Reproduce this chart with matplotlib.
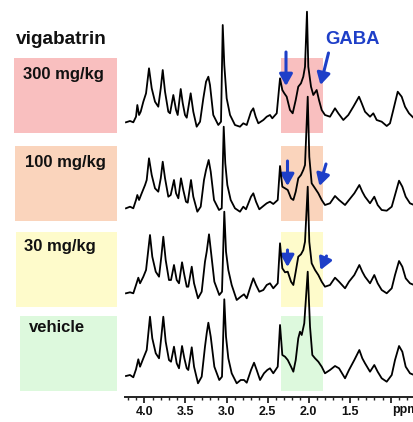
import matplotlib
matplotlib.use("Agg")
import matplotlib.pyplot as plt
from matplotlib.patches import Rectangle
from matplotlib.ticker import MultipleLocator

plt.rcParams['font.family'] = ['Liberation Sans', 'DejaVu Sans']

# ---------------- data (ppm, intensity above each trace's baseline) ----------------
groups = ["300 mg/kg", "100 mg/kg", "30 mg/kg", "vehicle"]

ppm_300 = [4.223, 4.174, 4.134, 4.101, 4.085, 4.064, 4.044, 4.012, 3.979, 3.943, 3.910, 3.870, 3.830,
           3.800, 3.776, 3.748, 3.708, 3.687, 3.647, 3.614, 3.594, 3.557, 3.533, 3.505, 3.484, 3.436,
           3.404, 3.363, 3.322, 3.282, 3.249, 3.221, 3.201, 3.161, 3.100, 3.067, 3.046, 3.027, 2.998,
           2.957, 2.897, 2.836, 2.796, 2.754, 2.702, 2.674, 2.645, 2.613, 2.552, 2.511, 2.471, 2.443,
           2.389, 2.349, 2.321, 2.297, 2.268, 2.228, 2.195, 2.158, 2.127, 2.094, 2.066, 2.045, 2.021,
           2.005, 1.972, 1.944, 1.903, 1.875, 1.842, 1.802, 1.741, 1.680, 1.640, 1.579, 1.518, 1.457,
           1.388, 1.355, 1.315, 1.254, 1.214, 1.173, 1.112, 1.051, 1.011, 0.971, 0.917, 0.869, 0.828,
           0.780, 0.719]
int_300 = [3.7, 5, 3.7, 9.3, 21, 11, 14.3, 24.3, 32.7, 57.7, 37.7, 24.3, 19.3,
           37.7, 56, 34.3, 14.3, 12.7, 31, 16, 11, 37, 23, 11, 8.3, 32.7,
           14.3, -0.7, 4.3, 27.7, 44.3, 49.3, 41, 11, 1, 4.3, 101, 61, 27.7,
           11, 1, -0.7, 2.7, 1, 14.3, 17.7, 9.3, 2.7, 6, 9.3, 11, 7.7,
           12.7, 47.7, 36, 32.7, 29.3, 16, 12.7, 26, 39.3, 42.7, 49.3, 59.3, 114.3,
           59.3, 39.3, 31, 36, 26, 16, 11, 9.3, 17.7, 12.7, 6, 11, 19.3,
           29.3, 22.7, 14.3, 9.3, 12.7, 6, 4.3, 0, 2.7, 16, 34.3, 29.3, 19.3,
           12.7, 7.7]

ppm_100 = [4.223, 4.174, 4.134, 4.101, 4.085, 4.064, 4.032, 3.991, 3.971, 3.943, 3.910, 3.870, 3.830,
           3.800, 3.776, 3.748, 3.708, 3.679, 3.639, 3.614, 3.586, 3.554, 3.526, 3.493, 3.472, 3.432,
           3.404, 3.355, 3.314, 3.274, 3.249, 3.217, 3.192, 3.152, 3.091, 3.058, 3.034, 3.015, 2.990,
           2.949, 2.897, 2.836, 2.796, 2.763, 2.702, 2.674, 2.641, 2.601, 2.552, 2.511, 2.471, 2.431,
           2.377, 2.349, 2.321, 2.288, 2.255, 2.215, 2.187, 2.158, 2.127, 2.094, 2.066, 2.045, 2.012,
           1.993, 1.964, 1.923, 1.883, 1.842, 1.802, 1.741, 1.680, 1.631, 1.558, 1.510, 1.445, 1.384,
           1.348, 1.315, 1.254, 1.202, 1.161, 1.112, 1.051, 0.990, 0.950, 0.901, 0.861, 0.820, 0.768,
           0.719]
int_100 = [2.7, 4.3, 2.7, 11, 16, 11, 17.7, 26, 31, 52.7, 36, 22.7, 19.3,
           32.7, 49.3, 32.7, 14.3, 16, 31, 17.7, 12.7, 32.7, 21, 9.3, 8.3, 31,
           14.3, -0.7, 4.3, 31, 41, 51, 39.3, 11, 1, 2.7, 84.3, 47.7, 26,
           11, 2.7, -0.7, 4.3, 1.7, 14.3, 17.7, 9.3, 1.7, 5, 7.7, 9.3, 7,
           11, 45, 24.3, 22.7, 21, 12.7, 11, 19.3, 32.7, 36, 41, 46, 114.3,
           54.3, 27.7, 22.7, 17.7, 11, 6, 7.7, 15, 11, 6, 11, 17.7, 26,
           19.3, 14.3, 7.7, 14.3, 6, 1, 0.3, 4.3, 16, 30.3, 24.3, 14.3, 7.7,
           6]

ppm_30 = [4.223, 4.174, 4.134, 4.101, 4.073, 4.052, 4.012, 3.979, 3.931, 3.903, 3.861, 3.821, 3.793,
          3.769, 3.740, 3.700, 3.675, 3.639, 3.606, 3.578, 3.541, 3.513, 3.484, 3.465, 3.423, 3.395,
          3.347, 3.302, 3.262, 3.241, 3.213, 3.189, 3.148, 3.088, 3.055, 3.027, 3.006, 2.978, 2.937,
          2.876, 2.827, 2.787, 2.754, 2.702, 2.674, 2.641, 2.601, 2.552, 2.511, 2.471, 2.431, 2.377,
          2.349, 2.321, 2.288, 2.255, 2.215, 2.187, 2.158, 2.127, 2.094, 2.066, 2.045, 2.012, 1.993,
          1.964, 1.923, 1.883, 1.842, 1.802, 1.741, 1.680, 1.631, 1.558, 1.510, 1.445, 1.384, 1.348,
          1.315, 1.254, 1.202, 1.161, 1.112, 1.051, 0.990, 0.950, 0.901, 0.861, 0.820, 0.768, 0.719]
int_30 = [2.7, 3.7, 2.7, 11, 18.3, 12.7, 19.3, 26, 61, 39.3, 24.3, 19.3, 39.3,
          59.3, 36, 16, 16, 31, 16, 12.7, 33.7, 21, 9.3, 9.3, 29.3, 12.7,
          -2.3, 4.3, 34.3, 44.3, 61.7, 44.3, 14.3, 1, 4.3, 84.3, 44.3, 26, 11,
          -4, -0.7, 1.7, -2.3, 11, 17.7, 11, 4.3, 6, 11, 12.7, 7.7, 12.7,
          52.7, 27.7, 23.7, 24.3, 14.3, 11, 24.3, 39.3, 41.7, 46, 54.3, 109.3, 54.3,
          32.7, 26, 21, 14.3, 9.3, 11, 18.3, 14.3, 7.7, 14.3, 21, 31, 24.3,
          19.3, 12.7, 21, 12.7, 6, 2.7, 7.7, 21, 35, 29.3, 17.7, 12.7, 11]

ppm_veh = [4.223, 4.174, 4.134, 4.101, 4.073, 4.052, 4.012, 3.971, 3.931, 3.903, 3.861, 3.821, 3.793,
           3.769, 3.740, 3.700, 3.675, 3.639, 3.606, 3.578, 3.541, 3.513, 3.484, 3.465, 3.423, 3.395,
           3.347, 3.302, 3.262, 3.241, 3.221, 3.192, 3.148, 3.088, 3.055, 3.027, 3.006, 2.978, 2.937,
           2.876, 2.827, 2.787, 2.754, 2.702, 2.665, 2.633, 2.592, 2.544, 2.504, 2.471, 2.431, 2.377,
           2.349, 2.321, 2.288, 2.255, 2.215, 2.187, 2.158, 2.127, 2.106, 2.085, 2.054, 2.012, 1.984,
           1.956, 1.923, 1.883, 1.842, 1.802, 1.741, 1.680, 1.631, 1.558, 1.510, 1.445, 1.384, 1.348,
           1.315, 1.254, 1.202, 1.161, 1.112, 1.051, 0.990, 0.950, 0.901, 0.861, 0.820, 0.768, 0.719]
int_veh = [5, 6, 3.7, 11.7, 21.7, 14.3, 22.7, 31, 64.3, 42.7, 27.7, 22.7, 44.3,
           64.3, 39.3, 21, 19.3, 34.3, 17.7, 12.7, 35, 22.7, 12.7, 11, 33.7, 14.3,
           -2.3, 4.3, 34.3, 47.7, 58.3, 44.3, 14.3, 1, 4.3, 81.7, 44.3, 22.7, 7.7,
           -2.3, 1, 1, -1.7, 11, 18.3, 11, 1, 7.7, 11, 12.7, 7.7, 14.3,
           56, 26, 24.3, 21, 14.3, 9.3, 21, 42.7, 49.3, 46, 57.7, 109.3, 54.3,
           26, 22.7, 19.3, 14.3, 7.7, 11, 15, 12.7, 2.7, 11, 21, 31, 22.7,
           17.7, 9.3, 16, 9.3, 2.7, -0.7, 6, 21, 35, 29.3, 14.3, 7.7, 6]

tick_values = [4.0, 3.5, 3.0, 2.5, 2.0, 1.5, 1.0]
tick_labels = ["4.0", "3.5", "3.0", "2.5", "2.0", "1.5", ""]

# ---------------- layout / style ----------------
W, H, DPI = 414, 422, 100
fig = plt.figure(figsize=(W / DPI, H / DPI), dpi=DPI)

bg = fig.add_axes([0, 0, 1, 1])
bg.set_xlim(0, W)
bg.set_ylim(H, 0)
bg.axis("off")

box_colors = ["#F9BFBF", "#FAD4BC", "#FEFBCB", "#DDF9DD"]
box_tops = [58, 146, 232, 316]
box_left = [14, 15, 16, 20]
box_h = 75
for c, t, l in zip(box_colors, box_tops, box_left):
    bg.add_patch(Rectangle((l, t), 117 - l, box_h, facecolor=c, edgecolor="none", zorder=0))
    bg.add_patch(Rectangle((281, t), 42, box_h, facecolor=c, edgecolor="none", zorder=0))

label_pos = [(23, 74), (25, 162), (24, 247), (29, 328)]
for g, (x, y) in zip(groups, label_pos):
    bg.text(x, y, g, fontsize=12, fontweight="bold", ha="left", va="center", color="#111111")

bg.text(16, 40, "vigabatrin", fontsize=13.7, fontweight="bold", ha="left", va="center", color="#111111")
blue = "#1E3FC8"
bg.text(325, 40, "GABA", fontsize=13.3, fontweight="bold", ha="left", va="center", color=blue)

arrows = [((286, 52), (286, 86)), ((328.5, 53), (320.5, 85)),
          ((287.5, 161), (287.5, 186)), ((326, 164), (319.5, 186)),
          ((287.5, 250), (287.5, 267)), ((326.5, 256), (320.5, 270))]
for (x0, y0), (x1, y1) in arrows:
    bg.annotate("", xy=(x1, y1), xytext=(x0, y0),
                arrowprops=dict(arrowstyle="-|>,head_length=0.5,head_width=0.28",
                                lw=2.2, color=blue, shrinkA=0, shrinkB=0,
                                mutation_scale=14))

# spectra axes: bottom at pixel 397, spans x pixels 125..414
ax_bottom_px = 397
ax = fig.add_axes([125 / W, (H - ax_bottom_px) / H, 1 - 125 / W, ax_bottom_px / H])
ax.patch.set_alpha(0)
ax.set_xlim(4.235, 0.719)
ax.set_ylim(0, ax_bottom_px)

offsets = [271, 186, 101, 16]
series = [(ppm_300, int_300), (ppm_100, int_100), (ppm_30, int_30), (ppm_veh, int_veh)]
for (xs, ys), off in zip(series, offsets):
    ax.plot(xs, [v + off for v in ys], color="black", lw=1.3, solid_joinstyle="round")

for s in ["top", "right", "left"]:
    ax.spines[s].set_visible(False)
ax.spines["bottom"].set_linewidth(1.4)
ax.spines["bottom"].set_color("#222222")
ax.set_yticks([])
ax.set_xticks(tick_values)
ax.set_xticklabels(tick_labels)
ax.xaxis.set_minor_locator(MultipleLocator(0.1))
ax.tick_params(axis="x", which="major", direction="out", length=4, width=1.2, pad=2.5,
               labelsize=9, colors="#111111")
ax.tick_params(axis="x", which="minor", direction="out", length=2.5, width=1, colors="#222222")
for lab in ax.get_xticklabels():
    lab.set_fontweight("bold")
ax.annotate("ppm", xy=(0.985, 0), xycoords=("data", "axes fraction"),
            xytext=(0, -5.4), textcoords="offset points", fontsize=9,
            fontweight="bold", ha="left", va="top", color="#111111", annotation_clip=False)

fig.savefig("out.png", dpi=DPI)
